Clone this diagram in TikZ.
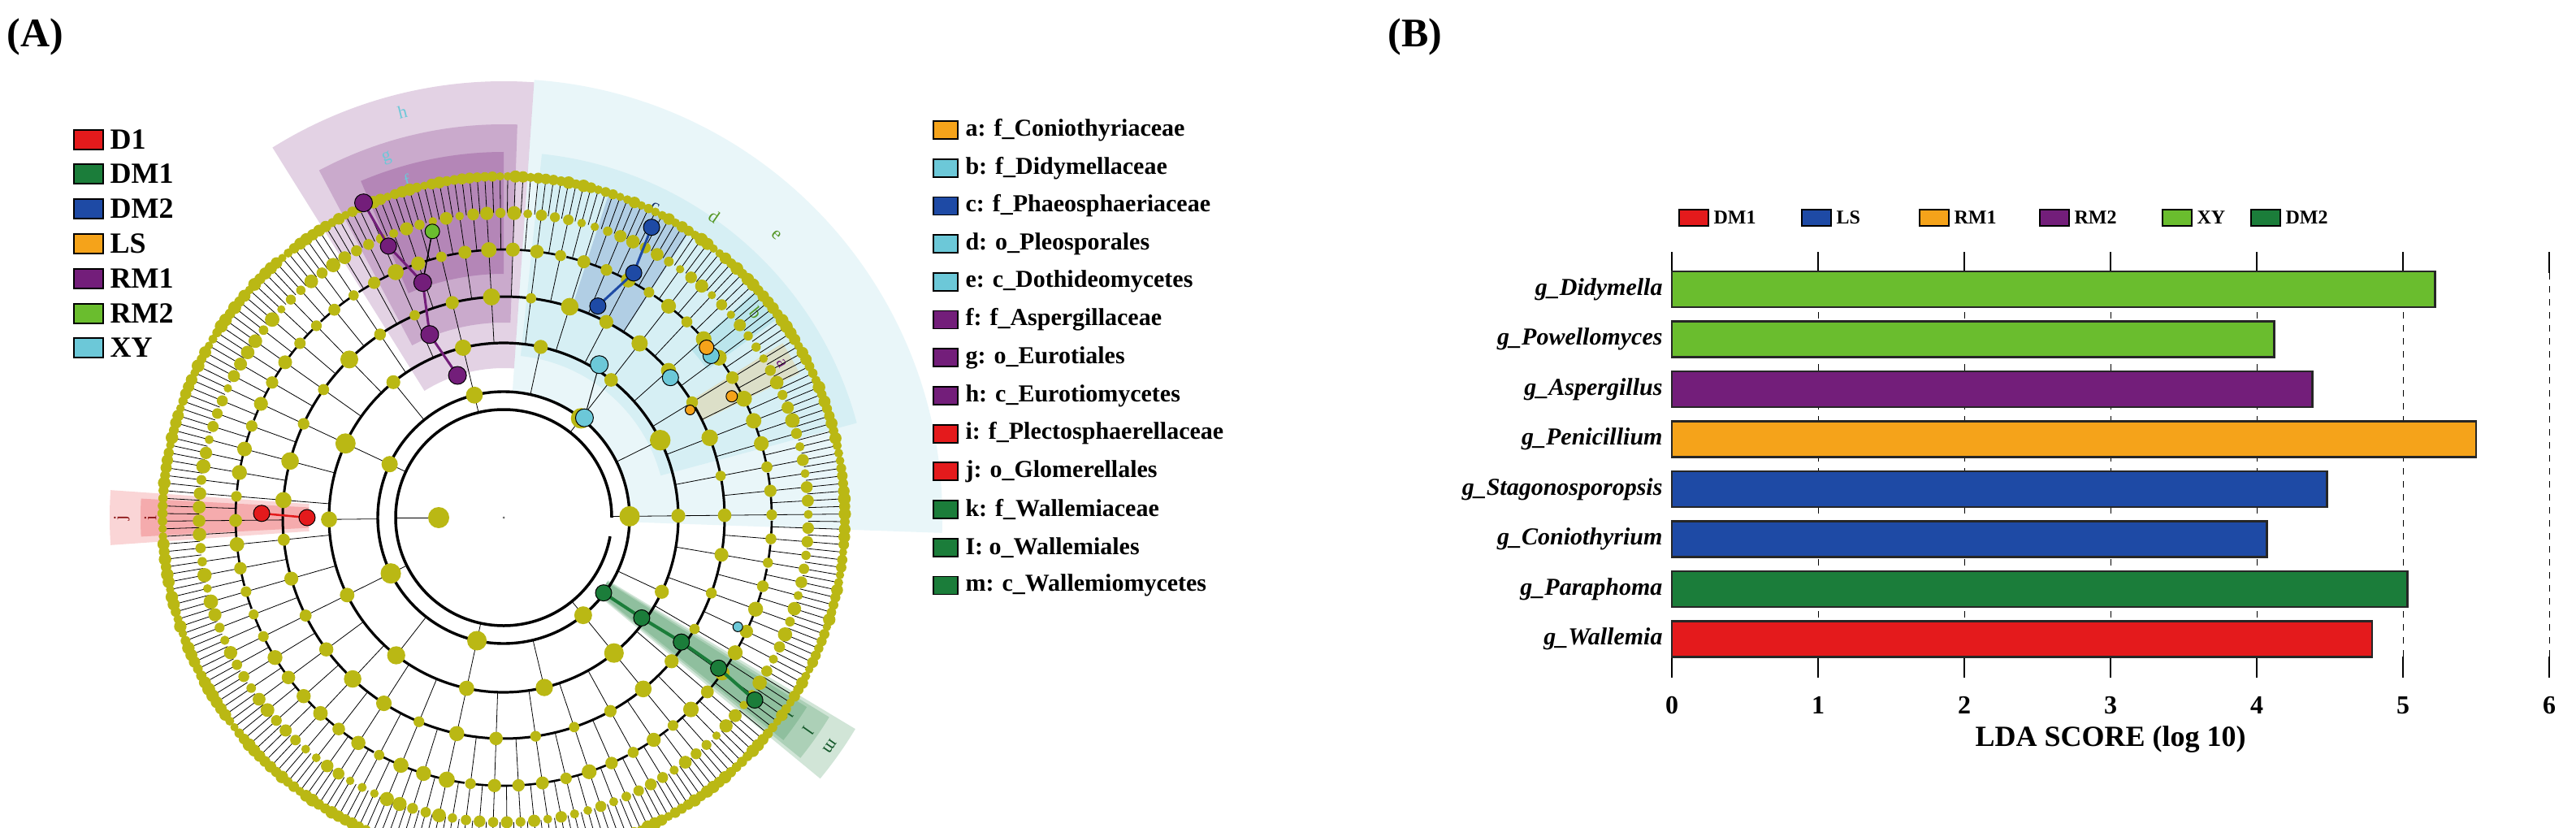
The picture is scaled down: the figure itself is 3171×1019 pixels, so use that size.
\documentclass[tikz,border=0pt]{standalone}
\usepackage{fontspec}
\setmainfont{Liberation Serif}
\begin{document}
\begin{tikzpicture}[x=1pt,y=1pt,
  cnode/.style={draw=black,line width=1pt},
  lgbox/.style={draw=black,line width=2pt,minimum width=34pt,minimum height=22pt,inner sep=0pt},
  letter/.style={font=\fontsize{22}{22}\selectfont},
  bar/.style={draw=black!85,line width=2.5pt}]
\definecolor{dotc}{RGB}{186,184,20}
\definecolor{cred}{RGB}{228,26,28}
\definecolor{cdg}{RGB}{27,125,58}
\definecolor{cblue}{RGB}{30,74,165}
\definecolor{corange}{RGB}{245,163,26}
\definecolor{cpurple}{RGB}{115,30,122}
\definecolor{clg}{RGB}{106,189,46}
\definecolor{ccyan}{RGB}{108,200,216}
\useasboundingbox (0,-1019) rectangle (3171,0);
\fill[white] (0,-1019) rectangle (3171,0);
\node[font=\fontsize{50}{50}\selectfont\bfseries,anchor=west] (lA) at (5,-45) {(A)};
\node[font=\fontsize{50}{50}\selectfont\bfseries,anchor=west] (lB) at (1705,-45) {(B)};

% ---------------- cladogram (units of 10pt) ----------------
\begin{scope}[shift={(620,-637)},x=10pt,y=10pt]
\newcommand\mysector[5]{\fill[#5] (#1:#3) arc[start angle=#1,end angle=#2,radius=#3] -- (#2:#4) arc[start angle=#2,end angle=#1,radius=#4] -- cycle;}
\mysector{86}{122}{18.4}{53.7}{cpurple,opacity=0.2}
\mysector{88}{118}{24}{48.4}{cpurple,opacity=0.22}
\mysector{90}{113}{30}{45}{cpurple,opacity=0.25}
\mysector{-2}{86}{15.6}{54}{ccyan,opacity=0.15}
\mysector{15}{84}{20}{45}{ccyan,opacity=0.15}
\mysector{57}{72}{27}{42}{cblue,opacity=0.2}
\mysector{36}{42}{31}{41.5}{ccyan,opacity=0.25}
\mysector{26}{32}{27}{40.5}{corange,opacity=0.2}
\mysector{176}{184}{24}{48.5}{cred,opacity=0.18}
\mysector{177}{183}{24}{44.7}{cred,opacity=0.22}
\mysector{-39.5}{-31}{15}{50.5}{cdg,opacity=0.2}
\mysector{-39}{-31.5}{15}{47}{cdg,opacity=0.2}
\mysector{-38.5}{-32}{15}{44}{cdg,opacity=0.2}
% letters
\node[letter,text=ccyan,rotate=14] (th) at (104:51.5) {h};
\node[letter,text=ccyan,rotate=18] (tg) at (108:46.5) {g};
\node[letter,text=ccyan,rotate=16] (tf) at (106:43.2) {f};
\node[letter,text=cblue!60!black,rotate=-26] (tc) at (64:42.5) {c};
\node[letter,text=clg!80!black,rotate=-35] (td) at (55:45.2) {d};
\node[letter,text=clg!80!black,rotate=-44] (te) at (46:48.3) {e};
\node[letter,text=clg!80!black,rotate=-51] (tb) at (39:40) {b};
\node[letter,text=cpurple,rotate=-61] (ta) at (29:39.1) {a};
\node[letter,text=cred!60!black,rotate=90] (tj) at (180:47) {j};
\node[letter,text=cred!60!black,rotate=90] (ti) at (180:43.5) {i};
\node[letter,text=cdg!70!black,rotate=-125] (tk) at (-35:42.5) {k};
\node[letter,text=cdg!70!black,rotate=-125] (tl) at (-35:45.8) {l};
\node[letter,text=cdg!70!black,rotate=-125] (tm) at (-35:49) {m};
% tree
\pgfmathsetseed{7}
\foreach \i in {0,...,279}{
  \pgfmathsetmacro\aa{\i*1.285714+0.6}
  \draw[line width=0.8pt] (\aa:37.5) -- (\aa:42);
  \ifodd\i\else
    \draw[line width=0.8pt] (\aa:33) -- (\aa:37.5);
  \fi
  \pgfmathtruncatemacro\mfour{mod(\i,4)}
  \pgfmathtruncatemacro\meight{mod(\i,8)}
  \pgfmathtruncatemacro\msix{mod(\i,20)}
  \pgfmathtruncatemacro\mfo{mod(\i,40)}
  \ifnum\mfour=0
    \pgfmathsetmacro\bb{\aa+3.857}
    \draw[line width=2.6pt] (\aa:33) arc[start angle=\aa,end angle=\bb,radius=33];
    \draw[line width=0.8pt] (\aa:27.2) -- (\aa:33);
  \fi
  \ifnum\meight=0
    \pgfmathsetmacro\bb{\aa+9}
    \draw[line width=3pt] (\aa:27.2) arc[start angle=\aa,end angle=\bb,radius=27.2];
    \draw[line width=0.8pt] (\aa:21.5) -- (\aa:27.2);
  \fi
  \ifnum\msix=0
    \pgfmathsetmacro\bb{\aa+24.43}
    \draw[line width=3.2pt] (\aa:21.5) arc[start angle=\aa,end angle=\bb,radius=21.5];
    \draw[line width=0.8pt] (\aa:15.5) -- (\aa:21.5);
  \fi
  \ifnum\mfo=0
    \pgfmathsetmacro\bb{\aa+50.14}
    \draw[line width=3.4pt] (\aa:15.5) arc[start angle=\aa,end angle=\bb,radius=15.5];
    \draw[line width=0.8pt] (\aa:13.3) -- (\aa:15.5);
  \fi
}
\draw[line width=3.5pt] (0:13.3) arc[start angle=0,end angle=350,radius=13.3];
\draw[line width=0.8pt] (180:13.3) -- (180:8);
\foreach \i in {0,...,279}{
  \pgfmathsetmacro\aa{\i*1.285714+0.6}
  \pgfmathsetmacro\s{0.5+0.3*rnd}
  \fill[dotc] (\aa:42) circle[radius=\s];
  \ifodd\i\else
    \pgfmathsetmacro\s{0.5+0.4*rnd}
    \fill[dotc] (\aa:37.5) circle[radius=\s];
  \fi
  \pgfmathtruncatemacro\mfour{mod(\i,4)}
  \pgfmathtruncatemacro\meight{mod(\i,8)}
  \pgfmathtruncatemacro\msix{mod(\i,20)}
  \pgfmathtruncatemacro\mfo{mod(\i,40)}
  \ifnum\mfour=0 \pgfmathsetmacro\s{0.6+0.4*rnd}\fill[dotc] (\aa:33) circle[radius=\s];\fi
  \ifnum\meight=0 \pgfmathsetmacro\s{0.6+0.5*rnd}\fill[dotc] (\aa:27.2) circle[radius=\s];\fi
  \ifnum\msix=0 \pgfmathsetmacro\s{0.8+0.5*rnd}\fill[dotc] (\aa:21.5) circle[radius=\s];\fi
  \ifnum\mfo=0 \pgfmathsetmacro\s{0.9+0.4*rnd}\fill[dotc] (\aa:15.5) circle[radius=\s];\fi
}
\fill[dotc] (180:8) circle[radius=1.3];
\fill[black!60] (0,0) circle[radius=0.15];
% coloured branches
\draw[cpurple,line width=3pt] (108:18.4)--(112:24.3)--(109:30.6)--(113:36.3)--(114:42.4);
\draw[line width=1.5pt] (109:30.6)--(104:36.3);
\draw[cblue,line width=3pt] (66:28.5)--(62:34.1)--(63:40.1);
\draw[line width=1pt] (51:15.8)--(58:22.2);
\draw[cred,line width=2.5pt] (180:24.2)--(179:29.8);
\draw[cdg,line width=4pt] (-37:15.4)--(-36:21)--(-35:26.7)--(-35:32.3)--(-36:38.2);
% coloured nodes
\foreach \r/\a/\c/\s in {18.4/108/cpurple/1.1,24.3/112/cpurple/1.1,30.6/109/cpurple/1.1,36.3/113/cpurple/1,42.4/114/cpurple/1.1,36.3/104/clg/0.9,
  28.5/66/cblue/1,34.1/62/cblue/1,40.1/63/cblue/1,
  15.8/51/ccyan/1.1,22.2/58/ccyan/1.1,26.8/40/ccyan/1,32.4/38/ccyan/1,31.8/-25/ccyan/0.6,
  32.6/40/corange/0.9,31.8/28/corange/0.7,26.5/30/corange/0.6,
  24.2/180/cred/1,29.8/179/cred/1,
  15.4/-37/cdg/1,21/-36/cdg/1,26.7/-35/cdg/1,32.3/-35/cdg/1,38.2/-36/cdg/1}
  \filldraw[fill=\c,cnode] (\a:\r) circle[radius=\s];
\end{scope}

% left legend
\foreach \t/\c/\y [count=\k] in {D1/cred/172,DM1/cdg/214,DM2/cblue/257,LS/corange/300,RM1/cpurple/343,RM2/clg/386,XY/ccyan/428}{
  \node[lgbox,fill=\c,minimum width=36pt,minimum height=24pt] (lb\k) at (109,-\y) {};
  \node[anchor=west,font=\fontsize{36}{36}\selectfont\bfseries] (lt\k) at (132,-\y) {\t};
}
% right legend
\foreach \t/\c [count=\k] in {a: f\_Coniothyriaceae/corange,b: f\_Didymellaceae/ccyan,c: f\_Phaeosphaeriaceae/cblue,d: o\_Pleosporales/ccyan,e: c\_Dothideomycetes/ccyan,f: f\_Aspergillaceae/cpurple,g: o\_Eurotiales/cpurple,h: c\_Eurotiomycetes/cpurple,i: f\_Plectosphaerellaceae/cred,j: o\_Glomerellales/cred,k: f\_Wallemiaceae/cdg,I: o\_Wallemiales/cdg,m: c\_Wallemiomycetes/cdg}{
  \pgfmathsetmacro\yy{-160-(\k-1)*46.7}
  \node[lgbox,fill=\c,minimum width=30pt,minimum height=22pt,line width=1.8pt] (rb\k) at (1164,\yy) {};
  \node[anchor=west,font=\fontsize{30}{30}\selectfont\bfseries] (rt\k) at (1185,\yy) {\t};
}

% ---------------- bar chart ----------------
\begin{scope}[shift={(2058,0)}]
\foreach \v in {0,...,6}{
  \draw[line width=1.5pt] (\v*180,-310) -- (\v*180,-336);
  \draw[line width=1.5pt] (\v*180,-808) -- (\v*180,-834);
  \ifnum\v>0 \draw[line width=1pt,dash pattern=on 8pt off 8pt] (\v*180,-336) -- (\v*180,-808);\fi
  \node[font=\fontsize{32}{32}\selectfont\bfseries] (tk\v) at (\v*180,-868) {\v};
}
\foreach \g/\v/\c [count=\k] in {Didymella/5.22/clg,Powellomyces/4.12/clg,Aspergillus/4.38/cpurple,Penicillium/5.5/corange,Stagonosporopsis/4.48/cblue,Coniothyrium/4.07/cblue,Paraphoma/5.03/cdg,Wallemia/4.79/cred}{
  \pgfmathsetmacro\yc{-356-(\k-1)*61.5}
  \filldraw[fill=\c,bar] (0,\yc-22) rectangle (\v*180,\yc+22);
  \node[anchor=east,font=\fontsize{30}{30}\selectfont\bfseries\itshape] (bl\k) at (-8,\yc) {g\_\g};
}
\node[font=\fontsize{36}{36}\selectfont\bfseries] (xl) at (540,-910) {LDA SCORE (log 10)};
\foreach \t/\c/\x [count=\k] in {DM1/cred/0,LS/cblue/151,RM1/corange/296,RM2/cpurple/444,XY/clg/595,DM2/cdg/704}{
  \node[lgbox,fill=\c,minimum width=36pt,minimum height=20pt,anchor=west] (gb\k) at (\x+8,-268) {};
  \node[anchor=west,font=\fontsize{24}{24}\selectfont\bfseries] (gt\k) at (\x+48,-268) {\t};
}
\end{scope}
\end{tikzpicture}
\end{document}
